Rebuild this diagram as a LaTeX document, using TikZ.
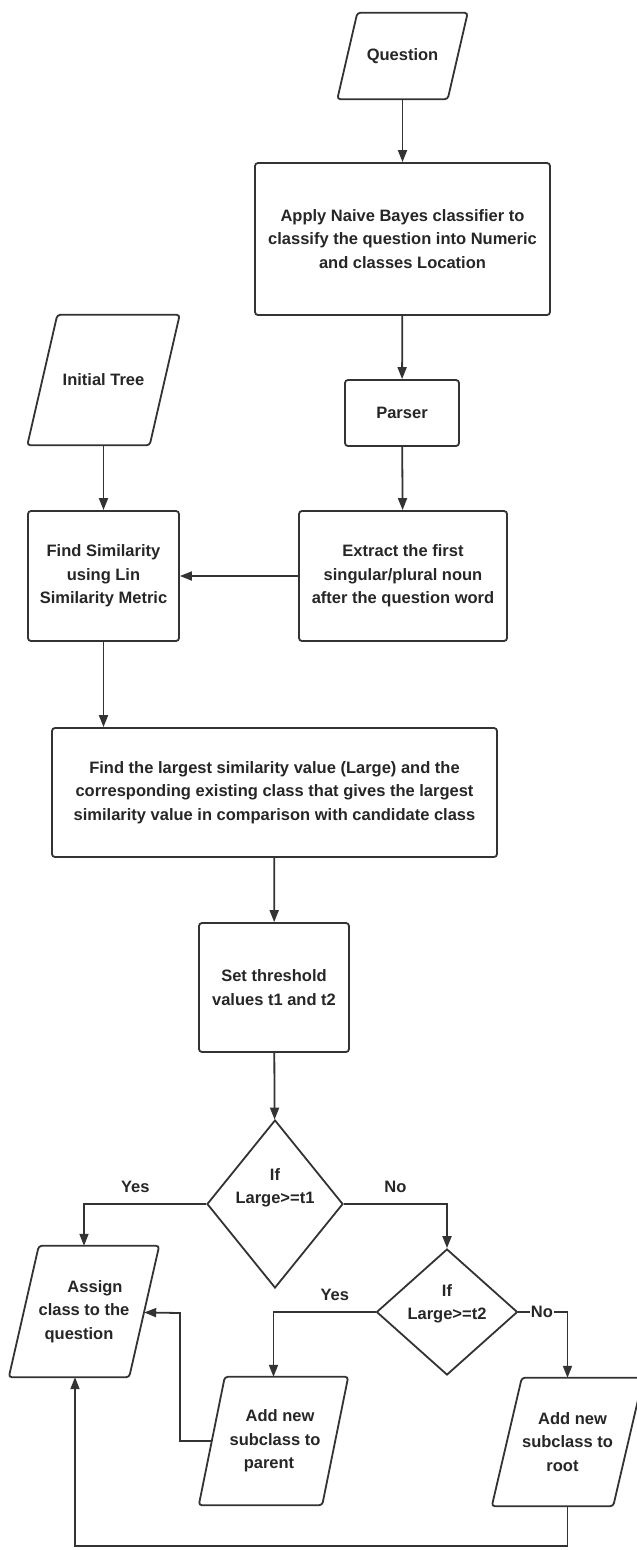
\documentclass[tikz,border=0pt]{standalone}
\usepackage{fontspec}
\setmainfont{Liberation Sans}
\usetikzlibrary{shapes.geometric,arrows.meta,calc}
\newcommand\parashape[2]{%
  \draw[shp] ($(#1.north west)+(#2/2,0)$) -- ($(#1.north east)+(#2/2,0)$)
    -- ($(#1.south east)-(#2/2,0)$) -- ($(#1.south west)-(#2/2,0)$) -- cycle;}
\begin{document}
\begin{tikzpicture}[x=1pt,y=-1pt,
  every node/.style={font=\bfseries\fontsize{16.5}{23.5}\selectfont, text=black!85},
  shp/.style={draw=black!80, line width=1.8pt, rounded corners=3pt},
  box/.style={shp, fill=white, align=center, inner sep=0pt},
  para/.style={rectangle, align=center, inner sep=0pt},
  dia/.style={draw=black!80, line width=1.8pt, fill=white, diamond, inner sep=0pt},
  arr/.style={draw=black!80, line width=1.8pt, -{Triangle[length=12pt,width=9pt]}},
  lbl/.style={inner sep=3pt, yshift=7pt}
]
\fill[white] (0,0) rectangle (637,1550);
\useasboundingbox (0,0) rectangle (637,1550);

\node[para, minimum width=110pt, minimum height=86pt] (q) at (402.5,56) {Question};
\node[box, minimum width=295pt, minimum height=152pt] (apply) at (402.5,239)
  {Apply Naive Bayes classifier to\\classify the question into Numeric\\and classes Location};
\node[box, minimum width=114pt, minimum height=66pt] (parser) at (402,413) {Parser};
\node[box, minimum width=208pt, minimum height=130pt] (extract) at (403,576)
  {Extract the first\\singular/plural noun\\after the question word};
\node[para, minimum width=122pt, minimum height=130pt] (tree) at (103.5,380) {Initial Tree};
\node[box, minimum width=151pt, minimum height=130pt] (sim) at (103.5,576)
  {Find Similarity\\using Lin\\Similarity Metric};
\node[box, minimum width=445pt, minimum height=129pt] (large) at (274.5,792.5)
  {Find the largest similarity value (Large) and the\\corresponding existing class that gives the largest\\similarity value in comparison with candidate class};
\node[box, minimum width=150pt, minimum height=129pt] (thr) at (274,987.5)
  {Set threshold\\values t1 and t2};
\node[dia, minimum width=136pt, minimum height=168pt,
  label={[yshift=16pt,align=center]center:If\\Large>=t1}] (d1) at (275,1204) {};
\node[dia, minimum width=141pt, minimum height=126pt,
  label={[yshift=8pt,align=center]center:If\\Large>=t2}] (d2) at (447,1312) {};
\node[para, minimum width=120pt, minimum height=131pt] (assign) at (84,1311.5)
  {\hspace*{22pt}Assign\\class to the\hspace*{2pt}\\question\hspace*{10pt}};
\node[para, minimum width=123pt, minimum height=128pt] (addp) at (273.5,1441)
  {\hspace*{13pt}Add new\\\hspace*{3pt}subclass to\\parent\hspace*{9pt}};
\node[para, minimum width=121pt, minimum height=128pt] (addr) at (567.5,1442)
  {\hspace*{10pt}Add new\\subclass to\\root\hspace*{10pt}};

\parashape{q}{20}
\parashape{tree}{30}
\parashape{assign}{30}
\parashape{addp}{26}
\parashape{addr}{30}

\coordinate (k1) at (180,1313);
\coordinate (k2) at (75,1546);

\draw[arr] (q) -- (apply);
\draw[arr] (apply) -- (parser);
\draw[arr] (parser) -- (extract);
\draw[arr] (tree) -- (sim);
\draw[arr] (extract) -- (sim);
\draw[arr] (sim.south) -- (sim.south |- large.north);
\draw[arr] (large) -- (thr);
\draw[arr] (thr) -- (d1);
\draw[arr] (d1.west) -| node[pos=0.29, above, lbl] {Yes} (assign);
\draw[arr] (d1.east) -| node[pos=0.25, above, lbl] {No} (d2);
\draw[arr] (d2.west) -| node[pos=0.2, above, lbl] {Yes} (addp);
\draw[arr] (d2.east) -| node[pos=0.24, fill=white, inner sep=1pt] {No} (addr);
\draw[arr] (addp.west) -| (k1) -- (assign);
\draw[arr] (addr.south) |- (k2) -- (k2 |- assign.south);
\end{tikzpicture}
\end{document}
